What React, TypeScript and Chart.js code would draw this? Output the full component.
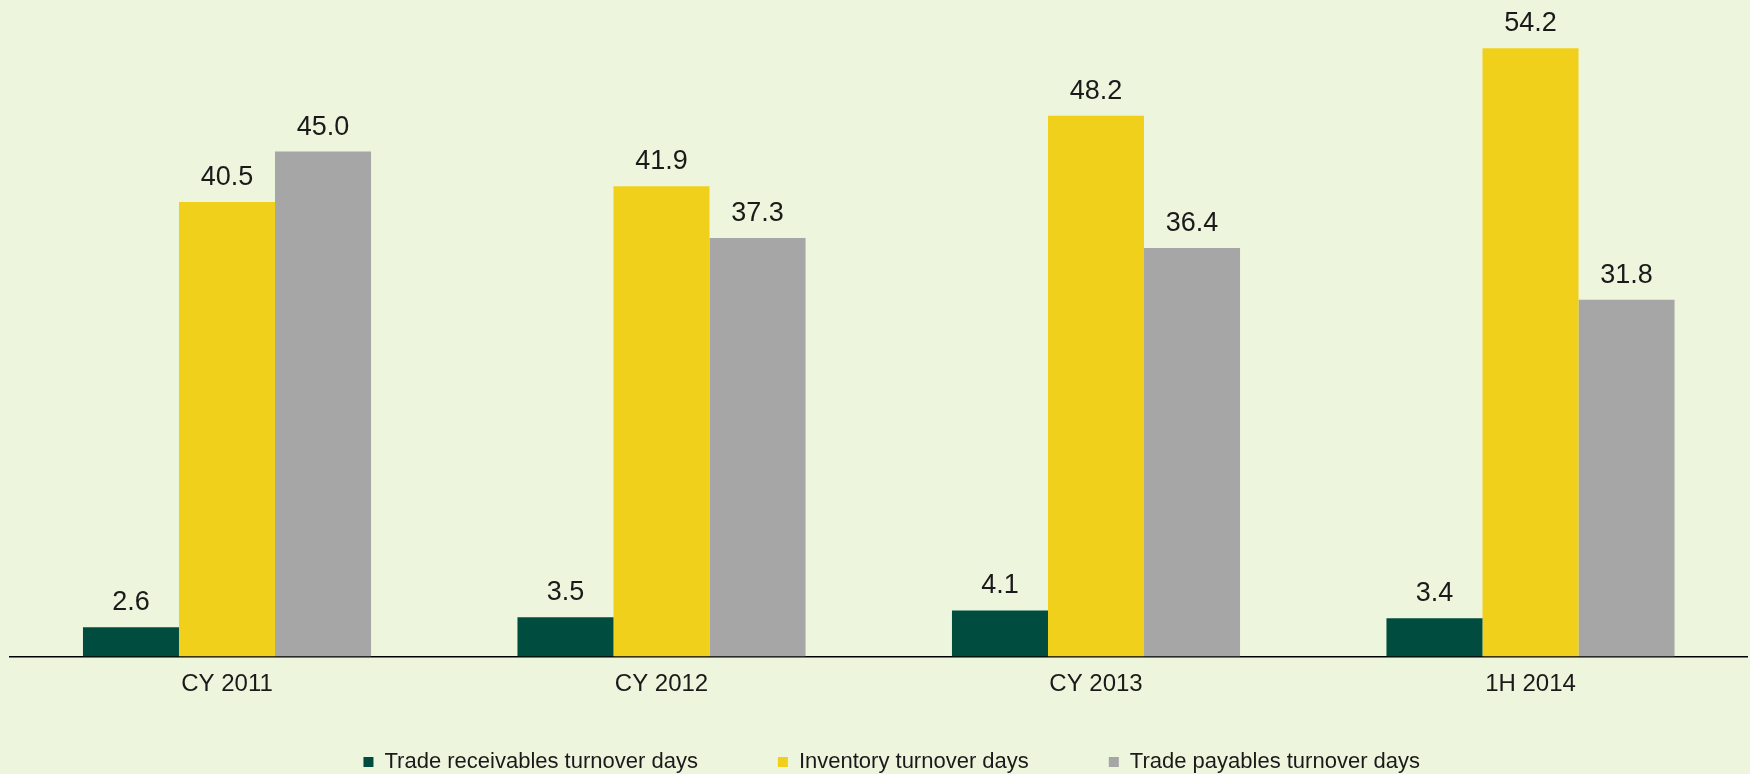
import React, { useEffect, useRef } from "react";
import { Chart, registerables } from "chart.js";

Chart.register(...registerables);

// ---- data ----
const categories = ["CY 2011", "CY 2012", "CY 2013", "1H 2014"];
const receivablesDays = [2.6, 3.5, 4.1, 3.4];
const inventoryDays = [40.5, 41.9, 48.2, 54.2];
const payablesDays = [45.0, 37.3, 36.4, 31.8];
const seriesNames = [
  "Trade receivables turnover days",
  "Inventory turnover days",
  "Trade payables turnover days",
];

// ---- styles ----
const FONT = "'Liberation Sans', Arial, sans-serif";
const TEXT = "#1A1A1A";
const BG = "#EDF5DD";
const GREEN = "#004D40";
const YELLOW = "#F0D01A";
const GREY = "#A6A6A6";

export default function App() {
  const ref = useRef<HTMLCanvasElement>(null);

  useEffect(() => {
    if (!ref.current) return;
    const valueLabels = {
      id: "valueLabels",
      afterLayout(chart: any) {
        const lg = chart.legend;
        if (lg) {
          lg.top -= 30.5;
          lg.bottom -= 30.5;
          lg.left += 13;
          lg.right += 13;
        }
      },
      afterDatasetsDraw(chart: any) {
        const ctx = chart.ctx;
        ctx.save();
        ctx.font = `27px ${FONT}`;
        ctx.fillStyle = TEXT;
        ctx.textAlign = "center";
        ctx.textBaseline = "alphabetic";
        chart.data.datasets.forEach((ds: any, i: number) => {
          const meta = chart.getDatasetMeta(i);
          meta.data.forEach((bar: any, j: number) => {
            const v = ds.data[j] as number;
            ctx.fillText(v.toFixed(1), bar.x, bar.y - 17);
          });
        });
        ctx.restore();
      },
    };

    const chart = new Chart(ref.current, {
      type: "bar",
      data: {
        labels: categories,
        datasets: [
          { label: seriesNames[0], data: receivablesDays, backgroundColor: GREEN, borderWidth: 0 },
          { label: seriesNames[1], data: inventoryDays, backgroundColor: YELLOW, borderWidth: 0 },
          { label: seriesNames[2], data: payablesDays, backgroundColor: GREY, borderWidth: 0 },
        ],
      },
      options: {
        animation: false,
        responsive: false,
        maintainAspectRatio: false,
        datasets: {
          bar: { categoryPercentage: 0.663, barPercentage: 1 },
        },
        layout: { padding: { top: 5.7, left: 9.75, right: 2.25, bottom: 0.5 } },
        scales: {
          x: {
            grid: { display: false, drawTicks: false },
            border: { display: true, color: "#000000", width: 1.5 },
            ticks: { font: { size: 24, family: FONT }, color: TEXT, padding: 13 },
            afterFit: (s: any) => {
              s.height = 45;
            },
          },
          y: { display: false, min: 0, max: 58 },
        },
        plugins: {
          legend: {
            position: "bottom",
            labels: {
              boxWidth: 10,
              boxHeight: 10,
              padding: 80,
              color: TEXT,
              font: { size: 22, family: FONT },
            },
          },
          tooltip: { enabled: false },
        },
      } as any,
      plugins: [valueLabels],
    });
    return () => chart.destroy();
  }, []);

  return (
    <div
      style={{
        position: "fixed",
        left: 0,
        top: 0,
        width: 1750,
        height: 774,
        overflow: "hidden",
        background: BG,
      }}
    >
      <canvas ref={ref} width={1750} height={814} style={{ display: "block" }} />
    </div>
  );
}
